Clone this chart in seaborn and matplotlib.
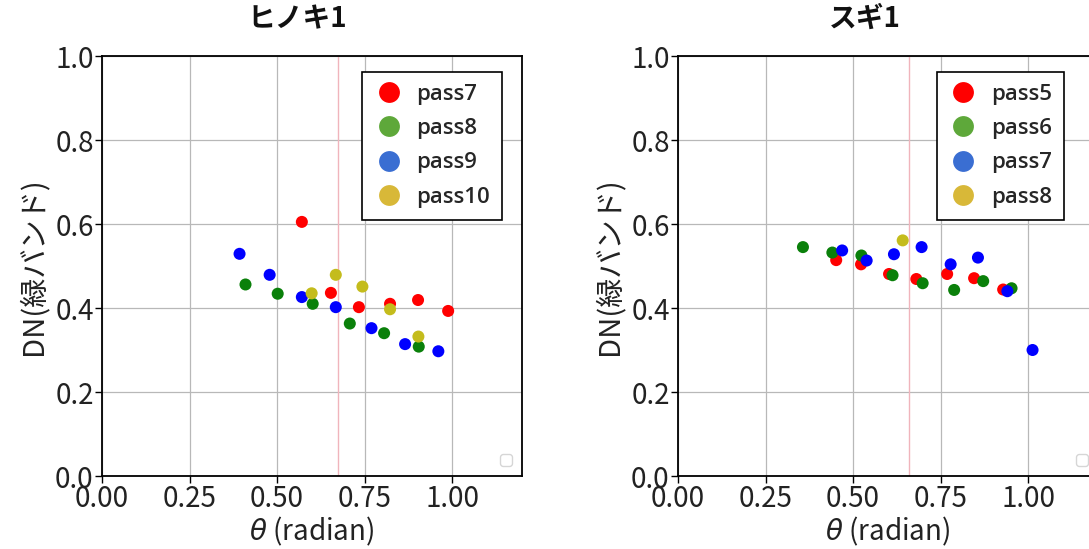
import matplotlib
matplotlib.use("Agg")
import matplotlib.pyplot as plt
from matplotlib.lines import Line2D
import seaborn as sns
import pandas as pd

# ---- data: ヒノキ1 ----
hinoki_pass7_x = [0.571, 0.654, 0.734, 0.823, 0.903, 0.989]
hinoki_pass7_y = [0.605, 0.436, 0.402, 0.410, 0.419, 0.393]
hinoki_pass8_x = [0.410, 0.502, 0.602, 0.708, 0.806, 0.905]
hinoki_pass8_y = [0.456, 0.434, 0.410, 0.363, 0.340, 0.308]
hinoki_pass9_x = [0.393, 0.479, 0.571, 0.668, 0.770, 0.866, 0.961]
hinoki_pass9_y = [0.529, 0.479, 0.426, 0.402, 0.352, 0.314, 0.297]
hinoki_pass10_x = [0.599, 0.668, 0.744, 0.823, 0.904]
hinoki_pass10_y = [0.435, 0.479, 0.451, 0.397, 0.332]

# ---- data: スギ1 ----
sugi_pass5_x = [0.452, 0.523, 0.603, 0.681, 0.769, 0.846, 0.929]
sugi_pass5_y = [0.514, 0.504, 0.481, 0.469, 0.481, 0.471, 0.444]
sugi_pass6_x = [0.357, 0.441, 0.524, 0.613, 0.699, 0.789, 0.872, 0.953]
sugi_pass6_y = [0.545, 0.532, 0.525, 0.478, 0.459, 0.443, 0.464, 0.447]
sugi_pass7_x = [0.469, 0.539, 0.617, 0.696, 0.779, 0.857, 0.941, 1.013]
sugi_pass7_y = [0.537, 0.513, 0.528, 0.545, 0.504, 0.520, 0.440, 0.300]
sugi_pass8_x = [0.642]
sugi_pass8_y = [0.561]

hinoki_labels = ["pass7", "pass8", "pass9", "pass10"]
sugi_labels = ["pass5", "pass6", "pass7", "pass8"]
titles = ["ヒノキ1", "スギ1"]
vline_x = [0.675, 0.659]
x_ticks = [0.00, 0.25, 0.50, 0.75, 1.00]
y_ticks = [0.0, 0.2, 0.4, 0.6, 0.8, 1.0]

point_colors = ["#ff0000", "#0a800a", "#0000ff", "#c4bc1c"]
legend_colors = ["#ff0000", "#5ea83a", "#3a6ed2", "#d8b838"]

sns.set_theme(style="white")
plt.rcParams["font.family"] = ["Noto Sans CJK JP", "DejaVu Sans"]

fig = plt.figure(figsize=(10.89, 5.49), dpi=100)
W, H = 1089, 549
ax_left = fig.add_axes([102 / W, 73 / H, 420 / W, 420 / H])
ax_right = fig.add_axes([678 / W, 73 / H, 420 / W, 420 / H])


def make_df(xs, ys, labels):
    frames = []
    for x, y, lab in zip(xs, ys, labels):
        frames.append(pd.DataFrame({"theta": x, "dn": y, "pass": lab}))
    return pd.concat(frames, ignore_index=True)


df_h = make_df([hinoki_pass7_x, hinoki_pass8_x, hinoki_pass9_x, hinoki_pass10_x],
               [hinoki_pass7_y, hinoki_pass8_y, hinoki_pass9_y, hinoki_pass10_y],
               hinoki_labels)
df_s = make_df([sugi_pass5_x, sugi_pass6_x, sugi_pass7_x, sugi_pass8_x],
               [sugi_pass5_y, sugi_pass6_y, sugi_pass7_y, sugi_pass8_y],
               sugi_labels)

title_x = [0.465, 0.445]
legend_anchor_x = [0.953, 0.92]

for i, (ax, df, labels) in enumerate([(ax_left, df_h, hinoki_labels),
                                      (ax_right, df_s, sugi_labels)]):
    ax.set_axisbelow(True)
    ax.grid(True, color="#b8b8b8", linewidth=0.9)
    ax.axvline(vline_x[i], color="#f0b4bc", linewidth=1.0, zorder=1)
    sns.scatterplot(data=df, x="theta", y="dn", hue="pass", hue_order=labels,
                    palette=point_colors, s=75, edgecolor="none", linewidth=0,
                    legend=False, ax=ax, zorder=3)
    ax.set_xlim(0, 1.2)
    ax.set_ylim(0, 1.0)
    ax.set_xticks(x_ticks)
    ax.set_xticklabels([f"{v:.2f}" for v in x_ticks])
    ax.set_yticks(y_ticks)
    ax.set_yticklabels([f"{v:.1f}" for v in y_ticks])
    ax.tick_params(axis="both", labelsize=20, length=5, width=1, color="black",
                   bottom=True, left=True, pad=1, labelcolor="#222222")
    for sp in ax.spines.values():
        sp.set_color("black")
        sp.set_linewidth(1.3)
    ax.set_xlabel(r"$\theta$ (radian)", fontsize=20, labelpad=0, color="#222222")
    ax.set_ylabel("DN(緑バンド)", fontsize=21, labelpad=5, color="#222222")
    ax.text(title_x[i], 1.055, titles[i], transform=ax.transAxes, ha="center",
            va="bottom", fontsize=20, fontweight="bold", color="#111111")

    # empty legend box (lower right)
    empty = ax.legend(handles=[], loc="lower right", frameon=True,
                      borderpad=0.42, fontsize=10, borderaxespad=0.75)
    empty.get_frame().set_edgecolor("#cccccc")
    ax.add_artist(empty)

    handles = [Line2D([0], [0], marker="o", linestyle="none", markersize=15,
                      markerfacecolor=c, markeredgecolor="none", label=l)
               for c, l in zip(legend_colors, labels)]
    leg = ax.legend(handles=handles, loc="upper right",
                    bbox_to_anchor=(legend_anchor_x[i], 0.963),
                    frameon=True, fancybox=False, framealpha=1,
                    prop={"family": "Open Sans", "size": 16, "weight": "semibold"},
                    handletextpad=0.6, labelspacing=0.6, borderpad=0.55,
                    handlelength=1.3, borderaxespad=0)
    leg.get_frame().set_edgecolor("black")
    leg.get_frame().set_linewidth(1.2)

fig.savefig("out.png", dpi=100)
